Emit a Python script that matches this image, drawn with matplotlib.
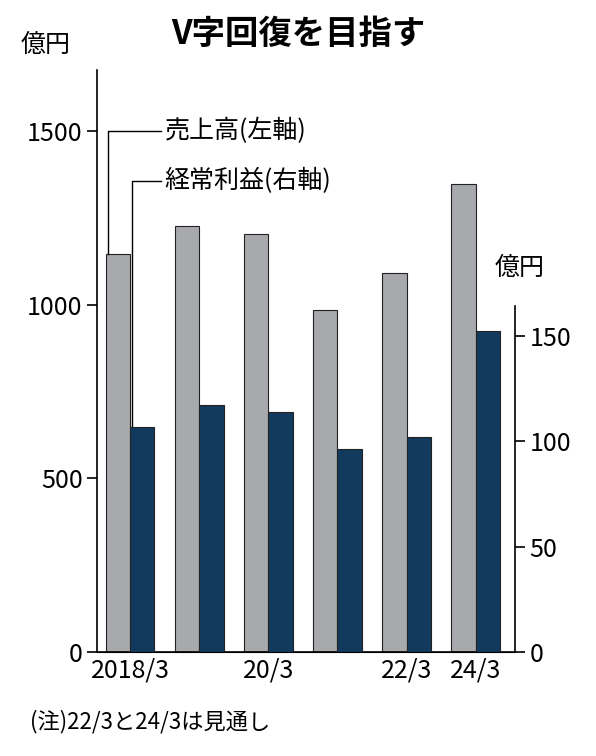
import matplotlib
matplotlib.use("Agg")
import matplotlib.pyplot as plt
import numpy as np

plt.rcParams['font.family'] = ['Noto Sans CJK JP', 'DejaVu Sans']

categories = ["2018/3", "19/3", "20/3", "21/3", "22/3", "24/3"]
tick_labels = ["2018/3", "", "20/3", "", "22/3", "24/3"]
sales = [1146, 1227, 1204, 985, 1091, 1348]
profit = [106.7, 117, 114, 96, 102, 152]

fig = plt.figure(figsize=(5.96, 7.56), dpi=100)
ax = fig.add_axes([0.163, 0.1376, 0.701, 0.77])
ax2 = ax.twinx()
x = np.arange(len(categories))
w = 0.35
ax.bar(x - w/2, sales, w, color="#a7a9ac", edgecolor="#222222", linewidth=0.8, zorder=2)
ax2.bar(x + w/2, profit, w, color="#123a5e", edgecolor="#222222", linewidth=0.8, zorder=2)
ax.set_xlim(-0.48, 5.57)
ax.set_ylim(0, 1676)
ax2.set_ylim(0, 276)
ax.set_yticks([0, 500, 1000, 1500])
ax2.set_yticks([0, 50, 100, 150])
ax.set_xticks(x)
ax.set_xticklabels(tick_labels)
for a in (ax, ax2):
    a.tick_params(labelsize=18, length=7, width=1.2, direction='out')
    a.spines['top'].set_visible(False)
ax.tick_params(axis='x', length=0, pad=4)
ax.spines['right'].set_visible(False)
ax2.spines['left'].set_visible(False)
ax2.spines['right'].set_bounds(0, 164)
for s in ['left', 'bottom']:
    ax.spines[s].set_linewidth(1.2)
ax2.spines['right'].set_linewidth(1.2)

fig.text(0.5, 0.955, "V字回復を目指す", ha='center', va='center', fontsize=24, fontweight='bold')
fig.text(0.035, 0.94, "億円", fontsize=18, va='center')
fig.text(0.83, 0.645, "億円", fontsize=18, va='center')
fig.text(0.05, 0.045, "(注)22/3と24/3は見通し", fontsize=16, va='center')

x1 = 0 - w/2 - 0.15
x2 = 0 + w/2 - 0.15
ax.plot([x1, x1, 0.45], [sales[0], 1500, 1500], color='black', lw=1, zorder=3)
ax.text(0.5, 1500, "売上高(左軸)", fontsize=18, va='center')
yp = 1355
ax.plot([x2, x2, 0.45], [profit[0] * 1676/276, yp, yp], color='black', lw=1, zorder=3)
ax.text(0.5, yp, "経常利益(右軸)", fontsize=18, va='center')

fig.savefig("out.png", dpi=100)
